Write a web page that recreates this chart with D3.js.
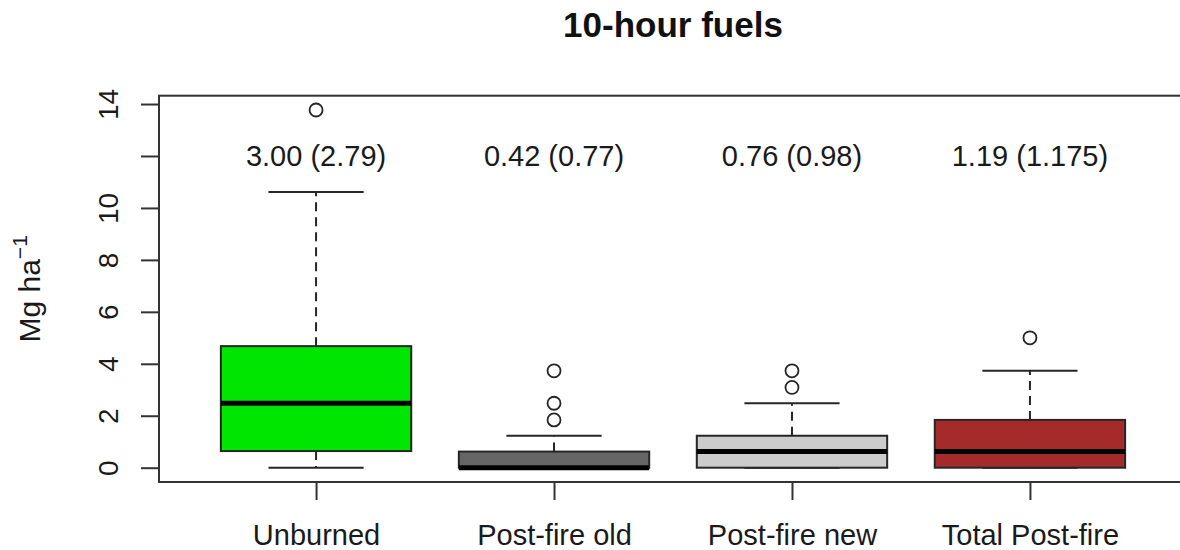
<!DOCTYPE html>
<html>
<head>
<meta charset="utf-8">
<script src="https://cdn.jsdelivr.net/npm/d3@7"></script>
<style>
  html, body { margin: 0; padding: 0; background: #fff; }
  svg { display: block; font-family: "Liberation Sans", Arial, sans-serif; }
</style>
</head>
<body>
<svg id="chart" width="1180" height="550"></svg>
<script>
// ---- data ----
const categories = ["Unburned", "Post-fire old", "Post-fire new", "Total Post-fire"];
const whiskerLow = [0, 0, 0, 0];
const q1 = [0.64, 0, 0, 0];
const median = [2.48, 0, 0.62, 0.62];
const q3 = [4.68, 0.62, 1.23, 1.84];
const whiskerHigh = [10.61, 1.23, 2.48, 3.73];
const outliers = [[13.77], [1.84, 2.48, 3.73], [3.09, 3.73], [5.0]];
const annotations = ["3.00 (2.79)", "0.42 (0.77)", "0.76 (0.98)", "1.19 (1.175)"];
const annotationLevel = 12;
const fills = ["#00e600", "#666666", "#cccccc", "#a52a2a"];
const yTicks = [0, 2, 4, 6, 8, 10, 12, 14];
const yTickLabels = ["0", "2", "4", "6", "8", "10", "", "14"];
const title = "10-hour fuels";

// ---- layout ----
const svg = d3.select("#chart");
const plot = { left: 159, right: 1187, top: 95.7, bottom: 482 };

const allVals = whiskerHigh.concat(outliers.flat(), whiskerLow);
const yMin = d3.min(allVals), yMax = d3.max(allVals);
const yPad = (yMax - yMin) * 0.04;
const y = d3.scaleLinear().domain([yMin - yPad, yMax + yPad]).range([plot.bottom, plot.top]);
const n = categories.length;
const xPad = n * 0.04;
const x = d3.scaleLinear().domain([0.5 - xPad, n + 0.5 + xPad]).range([plot.left, plot.right]);
const boxW = (x(2) - x(1)) * 0.8;

const ink = "#262626";

// boxes
categories.forEach((c, i) => {
  const cx = x(i + 1);
  const g = svg.append("g");
  // whiskers (dashed)
  g.append("line").attr("x1", cx).attr("x2", cx).attr("y1", y(q3[i])).attr("y2", y(whiskerHigh[i]))
    .attr("stroke", ink).attr("stroke-width", 2).attr("stroke-dasharray", "9,6");
  g.append("line").attr("x1", cx).attr("x2", cx).attr("y1", y(q1[i])).attr("y2", y(whiskerLow[i]))
    .attr("stroke", ink).attr("stroke-width", 2).attr("stroke-dasharray", "9,6");
  // caps
  [whiskerHigh[i], whiskerLow[i]].forEach(v => {
    g.append("line").attr("x1", cx - boxW / 4).attr("x2", cx + boxW / 4).attr("y1", y(v)).attr("y2", y(v))
      .attr("stroke", ink).attr("stroke-width", 2);
  });
  // box
  g.append("rect").attr("x", cx - boxW / 2).attr("width", boxW)
    .attr("y", y(q3[i])).attr("height", y(q1[i]) - y(q3[i]))
    .attr("fill", fills[i]).attr("stroke", ink).attr("stroke-width", 2);
  // median
  g.append("line").attr("x1", cx - boxW / 2).attr("x2", cx + boxW / 2).attr("y1", y(median[i])).attr("y2", y(median[i]))
    .attr("stroke", "#000").attr("stroke-width", 5);
  // outliers
  outliers[i].forEach(v => {
    g.append("circle").attr("cx", cx).attr("cy", y(v)).attr("r", 6.5)
      .attr("fill", "none").attr("stroke", ink).attr("stroke-width", 1.8);
  });
  // annotation
  svg.append("text").attr("x", cx).attr("y", y(annotationLevel)).attr("dy", "0.36em")
    .attr("text-anchor", "middle").attr("font-size", 29).attr("fill", "#1a1a1a")
    .text(annotations[i]);
});

// frame
svg.append("rect").attr("x", plot.left).attr("y", plot.top)
  .attr("width", plot.right - plot.left).attr("height", plot.bottom - plot.top)
  .attr("fill", "none").attr("stroke", "#333").attr("stroke-width", 2);

// y axis
const yAxis = d3.axisLeft(y).tickValues(yTicks).tickSize(18).tickPadding(0).tickFormat((d, i) => yTickLabels[i]);
const ya = svg.append("g").attr("transform", `translate(${plot.left},0)`).call(yAxis);
ya.select(".domain").remove();
ya.selectAll(".tick line").attr("stroke", "#333").attr("stroke-width", 2);
ya.selectAll(".tick text")
  .attr("font-size", 28).attr("fill", "#1a1a1a").attr("font-family", "Liberation Sans, Arial, sans-serif")
  .attr("text-anchor", "middle").attr("dy", null)
  .attr("transform", "translate(-41,0) rotate(-90)").attr("x", 0).attr("y", 0);

// x axis
const xAxis = d3.axisBottom(x).tickValues(d3.range(1, n + 1)).tickSize(18).tickPadding(0).tickFormat(d => categories[d - 1]);
const xa = svg.append("g").attr("transform", `translate(0,${plot.bottom})`).call(xAxis);
xa.select(".domain").remove();
xa.selectAll(".tick line").attr("stroke", "#333").attr("stroke-width", 2);
xa.selectAll(".tick text").attr("font-size", 29).attr("fill", "#1a1a1a")
  .attr("font-family", "Liberation Sans, Arial, sans-serif").attr("dy", null).attr("y", 63);

// y title
const yt = svg.append("text").attr("transform", `translate(40,${(plot.top + plot.bottom) / 2}) rotate(-90)`)
  .attr("text-anchor", "middle").attr("font-size", 30).attr("fill", "#1a1a1a");
yt.append("tspan").text("Mg ha");
yt.append("tspan").attr("font-size", 21).attr("dy", -13).text("\u22121");

// title
svg.append("text").attr("x", (plot.left + plot.right) / 2).attr("y", 37)
  .attr("text-anchor", "middle").attr("font-size", 35).attr("font-weight", "bold").attr("fill", "#111")
  .text(title);
</script>
</body>
</html>
